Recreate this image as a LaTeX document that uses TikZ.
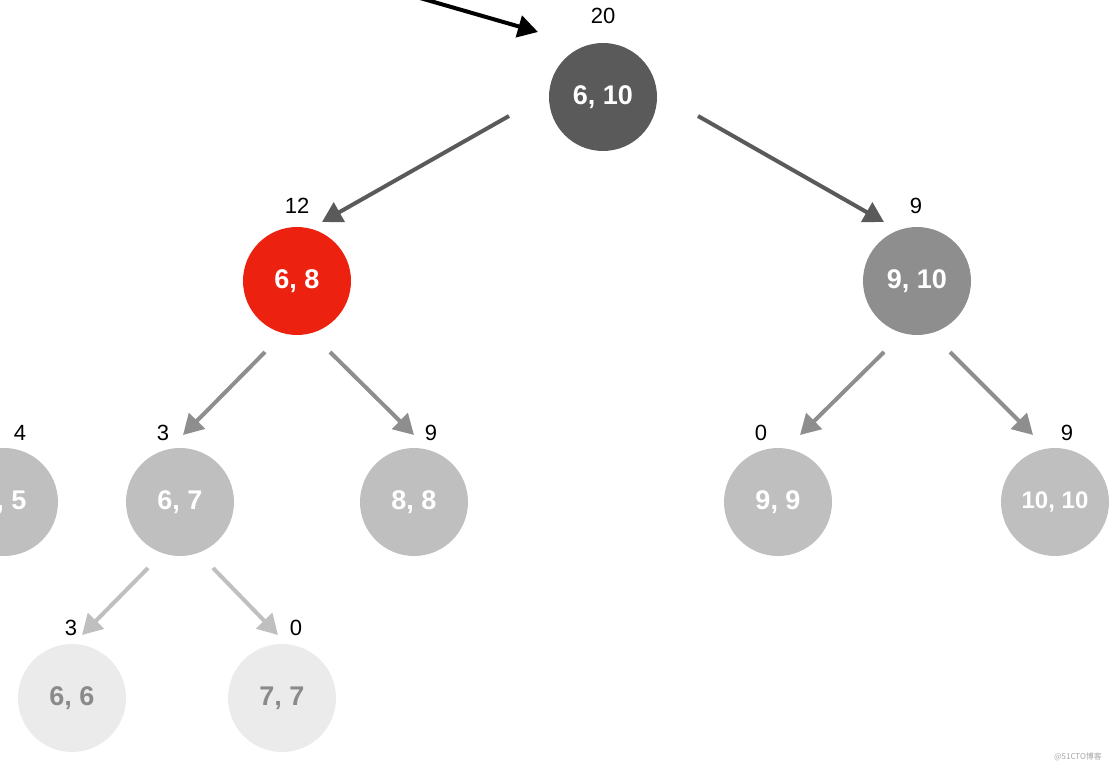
\documentclass[tikz,border=0pt]{standalone}
\usepackage{fontspec}
\setmainfont{Liberation Sans}
\newfontfamily\cjk{Noto Sans CJK SC}
\usetikzlibrary{arrows.meta}
\definecolor{dk}{HTML}{5A5A5A}
\definecolor{md}{HTML}{8E8E8E}
\definecolor{lt}{HTML}{BFBFBF}
\definecolor{vl}{HTML}{EBEBEB}
\definecolor{redn}{HTML}{EC2110}
\definecolor{txg}{HTML}{8A8A8A}
\tikzset{
  circ/.style={circle, minimum size=108pt, inner sep=0pt, text=white, font=\fontsize{27}{30}\selectfont\bfseries},
  lbl/.style={font=\fontsize{22}{26}\selectfont, text=black, inner sep=0pt},
  arr/.style={line width=4pt, -{Triangle[length=20pt,width=22pt]}},
}
\begin{document}
\begin{tikzpicture}[x=1pt,y=-1pt]
\useasboundingbox (0,0) rectangle (1116,767);
\clip (0,0) rectangle (1116,767);
% nodes
\node[circ, fill=dk] (n610) at (603,97) {6, 10};
\node[circ, fill=redn] (n68) at (297,281) {6, 8};
\node[circ, fill=md] (n910) at (917,281) {9, 10};
\node[circ, fill=lt] (n55) at (4,502) {5, 5};
\node[circ, fill=lt] (n67) at (180,502) {6, 7};
\node[circ, fill=lt] (n88) at (414,502) {8, 8};
\node[circ, fill=lt] (n99) at (778,502) {9, 9};
\node[circ, fill=lt, font=\fontsize{24}{28}\selectfont\bfseries] (n1010) at (1055,502) {10, 10};
\node[circ, fill=vl, text=txg] (n66) at (72,698) {6, 6};
\node[circ, fill=vl, text=txg] (n77) at (282,698) {7, 7};
% labels
\node[lbl] (l610) at (603,16) {20};
\node[lbl] (l68) at (297,206) {12};
\node[lbl] (l910) at (916,206) {9};
\node[lbl] (l55) at (20,433) {4};
\node[lbl] (l67) at (163,433) {3};
\node[lbl] (l88) at (431,433) {9};
\node[lbl] (l99) at (761,433) {0};
\node[lbl] (l1010) at (1067,433) {9};
\node[lbl] (l66) at (71,628) {3};
\node[lbl] (l77) at (296,628) {0};
% connector end points
\coordinate (s0) at (420,-2);   \coordinate (e0) at (538,32);
\coordinate (s1) at (509,116);  \coordinate (e1) at (322,222);
\coordinate (s2) at (698,116);  \coordinate (e2) at (884,222);
\coordinate (s3) at (265,352);  \coordinate (e3) at (183,435);
\coordinate (s4) at (330,352);  \coordinate (e4) at (414,435);
\coordinate (s5) at (884,352);  \coordinate (e5) at (800,435);
\coordinate (s6) at (950,352);  \coordinate (e6) at (1033,435);
\coordinate (s7) at (148,568);  \coordinate (e7) at (82,635);
\coordinate (s8) at (213,568);  \coordinate (e8) at (278,635);
% connectors
\draw[arr, black] (s0) -- (e0);
\draw[arr, dk] (s1) -- (e1);
\draw[arr, dk] (s2) -- (e2);
\draw[arr, md] (s3) -- (e3);
\draw[arr, md] (s4) -- (e4);
\draw[arr, md] (s5) -- (e5);
\draw[arr, md] (s6) -- (e6);
\draw[arr, lt] (s7) -- (e7);
\draw[arr, lt] (s8) -- (e8);
% watermark
\node[text=gray!70, font=\cjk\fontsize{8}{9}\selectfont, inner sep=0pt] (wm) at (1078,757) {@51CTO博客};
\end{tikzpicture}
\end{document}
